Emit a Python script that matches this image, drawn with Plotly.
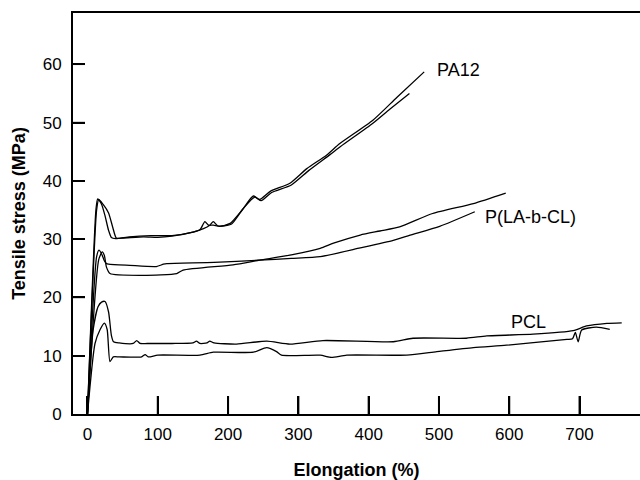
import plotly.graph_objects as go

# PA12 (two specimens)
pa12_a_x = [0, 12, 14.5, 20, 25, 30, 34, 40, 60, 90, 120, 150, 160, 167, 172, 179, 188, 203, 220, 236, 245, 260, 288, 312, 340, 359, 406, 440, 479]
pa12_a_y = [0, 35, 36.9, 36.0, 34.0, 31.5, 30.3, 30.1, 30.4, 30.6, 30.6, 31.2, 31.6, 33.0, 32.4, 32.4, 32.2, 32.7, 35.0, 37.4, 36.8, 38.2, 39.6, 42.1, 44.4, 46.4, 50.4, 54.3, 58.7]
pa12_b_x = [0, 13, 16, 22, 30, 36, 41, 50, 80, 100, 120, 150, 165, 174, 179, 185, 195, 205, 222, 238, 247, 262, 290, 315, 345, 360, 406, 430, 458]
pa12_b_y = [0, 35, 36.8, 36.0, 34.5, 32.0, 30.2, 30.2, 30.4, 30.3, 30.5, 31.2, 31.8, 32.4, 33.0, 32.3, 32.3, 32.6, 35.3, 37.2, 36.6, 38.0, 39.3, 41.8, 44.5, 45.9, 49.9, 52.3, 55.0]

# P(LA-b-CL) (two specimens)
plcl_a_x = [0, 13, 16.4, 20, 24, 27, 30, 60, 98, 108, 113, 180, 245, 290, 331, 388, 435, 459, 501, 551]
plcl_a_y = [0, 27.0, 28.1, 27.5, 26.3, 25.8, 25.7, 25.5, 25.3, 25.7, 25.8, 26.0, 26.4, 26.7, 27.0, 28.5, 29.8, 30.7, 32.2, 34.7]
plcl_b_x = [0, 16, 21, 24, 27, 32, 79, 127, 136, 207, 245, 290, 331, 350, 388, 416, 444, 491, 549, 595]
plcl_b_y = [0, 26.5, 27.8, 27.2, 25.2, 24.1, 23.8, 24.1, 24.7, 25.6, 26.4, 27.3, 28.4, 29.3, 30.7, 31.4, 32.1, 34.4, 36.1, 37.9]

# PCL (two specimens)
pcl_a_x = [0, 8, 15, 20, 25, 30, 34, 37, 45, 65, 70, 75, 85, 120, 150, 155, 160, 170, 174, 180, 212, 255, 288, 335, 435, 463, 539, 568, 634, 691, 710, 739, 760]
pcl_a_y = [0, 14.4, 18.4, 19.2, 19.3, 17.5, 13.5, 12.4, 12.2, 12.1, 12.6, 12.1, 12.1, 12.1, 12.2, 12.5, 12.1, 12.2, 12.5, 12.2, 12.0, 12.5, 12.0, 12.6, 12.4, 13.0, 13.0, 13.4, 13.7, 14.3, 15.1, 15.55, 15.65]
pcl_b_x = [0, 10.7, 18, 24, 28, 32, 36.7, 45, 77, 82, 86.5, 100, 160, 179, 236, 255, 269, 276, 331, 347, 369, 454, 497, 549, 596, 682, 690, 694, 698, 703, 724, 743]
pcl_b_y = [0, 12.1, 14.5, 15.6, 14.5, 9.0, 9.8, 9.8, 9.8, 10.2, 9.8, 10.1, 10.1, 10.6, 10.6, 11.4, 10.7, 10.1, 10.1, 9.7, 10.1, 10.1, 10.7, 11.4, 11.8, 12.8, 12.9, 14.0, 12.4, 14.4, 14.9, 14.5]

labels = ["PA12", "P(LA-b-CL)", "PCL"]
label_x = [494, 563, 600]
label_y = [59.0, 33.8, 15.7]

x_ticks = [0, 100, 200, 300, 400, 500, 600, 700]
y_ticks = [0, 10, 20, 30, 40, 50, 60]

FONT = "Arial, Liberation Sans, Helvetica, sans-serif"
W, H = 640, 480
ML, MR, MT, MB = 73, 0, 13, 66
X_RANGE = [-20.6, 786]
Y_RANGE = [0, 68.8]
XTICK_LEN, YTICK_LEN = 18, 12

fig = go.Figure()
series = [(pa12_a_x, pa12_a_y), (pa12_b_x, pa12_b_y),
          (plcl_a_x, plcl_a_y), (plcl_b_x, plcl_b_y),
          (pcl_a_x, pcl_a_y), (pcl_b_x, pcl_b_y)]
for sx, sy in series:
    fig.add_trace(go.Scatter(x=sx, y=sy, mode="lines",
                             line=dict(color="black", width=1.3, shape="spline", smoothing=0.6),
                             showlegend=False, hoverinfo="skip"))

# inward tick marks drawn as line traces, derived from the tick lists and axis scales
x_per_px = (X_RANGE[1] - X_RANGE[0]) / (W - ML - MR)
y_per_px = (Y_RANGE[1] - Y_RANGE[0]) / (H - MT - MB)
tx, ty = [], []
for tv in x_ticks[1:]:
    tx += [tv, tv, None]
    ty += [Y_RANGE[0], Y_RANGE[0] + XTICK_LEN * y_per_px, None]
fig.add_trace(go.Scatter(x=tx, y=ty, mode="lines", line=dict(color="black", width=2),
                         showlegend=False, hoverinfo="skip", cliponaxis=False))
ux, uy = [], []
for tv in y_ticks[1:]:
    ux += [X_RANGE[0], X_RANGE[0] + YTICK_LEN * x_per_px, None]
    uy += [tv, tv, None]
fig.add_trace(go.Scatter(x=ux, y=uy, mode="lines", line=dict(color="black", width=1.5),
                         showlegend=False, hoverinfo="skip", cliponaxis=False))

for t, lx, ly in zip(labels, label_x, label_y):
    fig.add_annotation(x=lx, y=ly, text=t, showarrow=False, xanchor="left", yanchor="middle",
                       font=dict(family=FONT, size=18, color="black"))

fig.update_layout(
    width=W, height=H,
    margin=dict(l=ML, r=MR, t=MT, b=MB),
    paper_bgcolor="white", plot_bgcolor="white",
    font=dict(family=FONT),
)
fig.update_xaxes(range=X_RANGE, tickvals=x_ticks, ticks="inside", ticklen=XTICK_LEN, tickwidth=2,
                 tickcolor="black", showline=True, linecolor="black", linewidth=2, mirror=True,
                 showgrid=False, zeroline=False, tickfont=dict(size=17, color="black"),
                 ticklabelstandoff=4,
                 title=dict(text="<b>Elongation (%)</b>", font=dict(size=18, color="black"), standoff=22))
fig.update_yaxes(range=Y_RANGE, tickvals=y_ticks, ticks="inside", ticklen=YTICK_LEN, tickwidth=1.5,
                 tickcolor="black", showline=True, linecolor="black", linewidth=2,
                 showgrid=False, zeroline=False, tickfont=dict(size=17, color="black"),
                 ticklabelstandoff=6,
                 title=dict(text="<b>Tensile stress (MPa)</b>", font=dict(size=18, color="black"), standoff=12))

fig.write_html("out.html", config={"displayModeBar": False},
               post_script="document.body.style.margin='0';document.body.style.overflow='hidden';")
